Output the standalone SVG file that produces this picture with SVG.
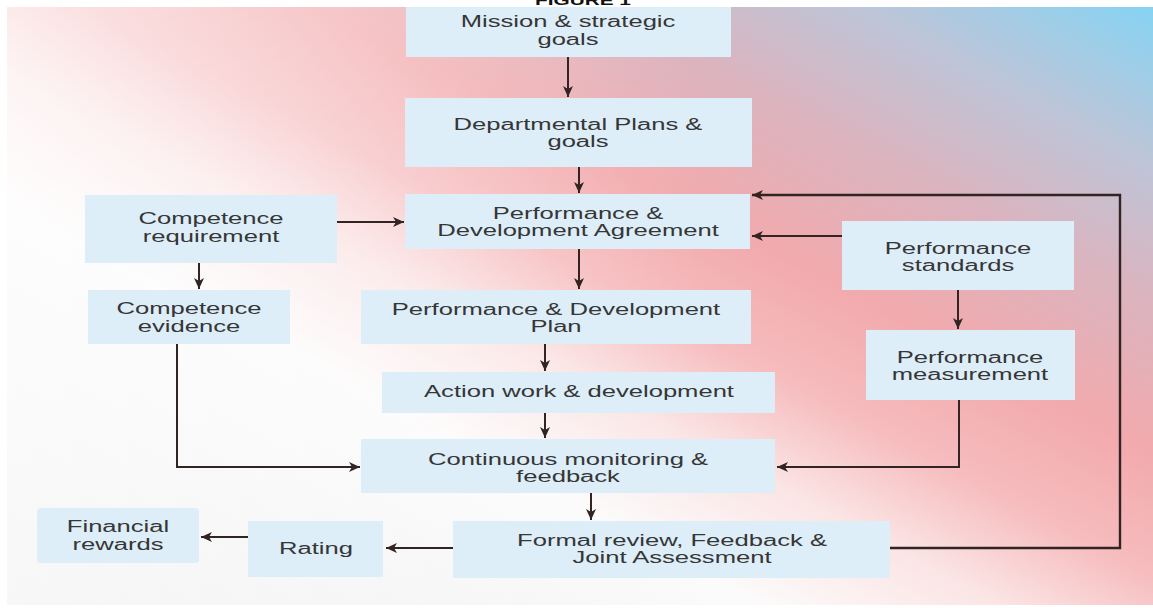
<svg xmlns="http://www.w3.org/2000/svg" width="1153" height="608" viewBox="0 0 1153 608">
  <defs>
    <linearGradient id="bg" gradientUnits="userSpaceOnUse" x1="0" y1="600" x2="502" y2="-340">
      <stop offset="0" stop-color="#ececec"/>
      <stop offset="0.21" stop-color="#f5f5f5"/>
      <stop offset="0.33" stop-color="#fcfbfb"/>
      <stop offset="0.44" stop-color="#fbe4e4"/>
      <stop offset="0.53" stop-color="#f6bcbe"/>
      <stop offset="0.63" stop-color="#f2aaad"/>
      <stop offset="0.76" stop-color="#dab4bf"/>
      <stop offset="0.87" stop-color="#bec5d8"/>
      <stop offset="1" stop-color="#86d3f2"/>
    </linearGradient>
    <linearGradient id="fadeL" gradientUnits="userSpaceOnUse" x1="0" y1="0" x2="700" y2="0">
      <stop offset="0" stop-color="#ffffff" stop-opacity="0.6"/>
      <stop offset="0.45" stop-color="#ffffff" stop-opacity="0.35"/>
      <stop offset="1" stop-color="#ffffff" stop-opacity="0"/>
    </linearGradient>
    <marker id="ah" markerUnits="userSpaceOnUse" markerWidth="12" markerHeight="10" refX="11" refY="5" orient="auto">
      <path d="M0,0 L11,5 L0,10 L3,5 Z" fill="#332424"/>
    </marker>
    <style>
      .box { fill: #ddeef9; }
      .t { font-family: "Liberation Sans", Arial, sans-serif; font-size: 16px; fill: #363636; text-anchor: middle; }
      .c { fill: none; stroke: #332424; stroke-width: 2; marker-end: url(#ah); }
    </style>
  </defs>

  <rect x="0" y="0" width="1153" height="608" fill="#ffffff"/>
  <rect x="7" y="7" width="1146" height="598" fill="url(#bg)"/>
  <rect x="7" y="7" width="1146" height="598" fill="url(#fadeL)"/>

  <text transform="translate(583,5) scale(1.6,1)" style="font-family:'Liberation Sans',Arial,sans-serif;font-size:13px;font-weight:bold;fill:#111;text-anchor:middle">FIGURE 1</text>

  <g id="connectors">
    <path class="c" d="M568,57 V97"/>
    <path class="c" d="M579,167 V193"/>
    <path class="c" d="M579,249 V289"/>
    <path class="c" d="M545,344 V371"/>
    <path class="c" d="M545,413 V438"/>
    <path class="c" d="M591,493 V520"/>
    <path class="c" d="M336,222 H404"/>
    <path class="c" d="M199,263 V289"/>
    <path class="c" d="M177,343 V467 H360"/>
    <path class="c" d="M845,236 H752"/>
    <path class="c" d="M958,290 V329"/>
    <path class="c" d="M959,400 V467 H777"/>
    <path class="c" style="stroke-width:2.4" d="M890,548 H1120 V195 H752"/>
    <path class="c" d="M453,548 H386"/>
    <path class="c" d="M248,537 H201"/>
  </g>

  <g id="mission">
    <rect class="box" x="406" y="7" width="325" height="50"/>
    <text class="t" transform="translate(568,27) scale(1.6,1)"><tspan x="0" y="0">Mission &amp; strategic</tspan><tspan x="0" y="18">goals</tspan></text>
  </g>
  <g id="departmental">
    <rect class="box" x="405" y="98" width="347" height="69"/>
    <text class="t" transform="translate(578,130) scale(1.6,1)"><tspan x="0" y="0">Departmental Plans &amp;</tspan><tspan x="0" y="17">goals</tspan></text>
  </g>
  <g id="agreement">
    <rect class="box" x="405" y="194" width="345" height="55"/>
    <text class="t" transform="translate(578,219) scale(1.6,1)"><tspan x="0" y="0">Performance &amp;</tspan><tspan x="0" y="17">Development Agreement</tspan></text>
  </g>
  <g id="competence-requirement">
    <rect class="box" x="85" y="195" width="252" height="68"/>
    <text class="t" transform="translate(211,224) scale(1.6,1)"><tspan x="0" y="0">Competence</tspan><tspan x="0" y="18">requirement</tspan></text>
  </g>
  <g id="competence-evidence">
    <rect class="box" x="88" y="290" width="202" height="54"/>
    <text class="t" transform="translate(189,314) scale(1.6,1)"><tspan x="0" y="0">Competence</tspan><tspan x="0" y="18">evidence</tspan></text>
  </g>
  <g id="plan">
    <rect class="box" x="361" y="290" width="390" height="54"/>
    <text class="t" transform="translate(556,315) scale(1.6,1)"><tspan x="0" y="0">Performance &amp; Development</tspan><tspan x="0" y="17">Plan</tspan></text>
  </g>
  <g id="performance-standards">
    <rect class="box" x="842" y="221" width="232" height="69"/>
    <text class="t" transform="translate(958,254) scale(1.6,1)"><tspan x="0" y="0">Performance</tspan><tspan x="0" y="17">standards</tspan></text>
  </g>
  <g id="performance-measurement">
    <rect class="box" x="866" y="330" width="209" height="70"/>
    <text class="t" transform="translate(970,363) scale(1.6,1)"><tspan x="0" y="0">Performance</tspan><tspan x="0" y="17">measurement</tspan></text>
  </g>
  <g id="action">
    <rect class="box" x="382" y="372" width="393" height="41"/>
    <text class="t" transform="translate(579,397) scale(1.6,1)">Action work &amp; development</text>
  </g>
  <g id="monitoring">
    <rect class="box" x="361" y="439" width="414" height="54"/>
    <text class="t" transform="translate(568,465) scale(1.6,1)"><tspan x="0" y="0">Continuous monitoring &amp;</tspan><tspan x="0" y="17">feedback</tspan></text>
  </g>
  <g id="formal-review">
    <rect class="box" x="453" y="521" width="437" height="57"/>
    <text class="t" transform="translate(672,546) scale(1.6,1)"><tspan x="0" y="0">Formal review, Feedback &amp;</tspan><tspan x="0" y="17">Joint Assessment</tspan></text>
  </g>
  <g id="rating">
    <rect class="box" x="248" y="521" width="135" height="56"/>
    <text class="t" transform="translate(316,554) scale(1.6,1)">Rating</text>
  </g>
  <g id="financial-rewards">
    <rect class="box" x="37" y="508" width="162" height="55" rx="4"/>
    <text class="t" transform="translate(118,532) scale(1.6,1)"><tspan x="0" y="0">Financial</tspan><tspan x="0" y="18">rewards</tspan></text>
  </g>
</svg>
